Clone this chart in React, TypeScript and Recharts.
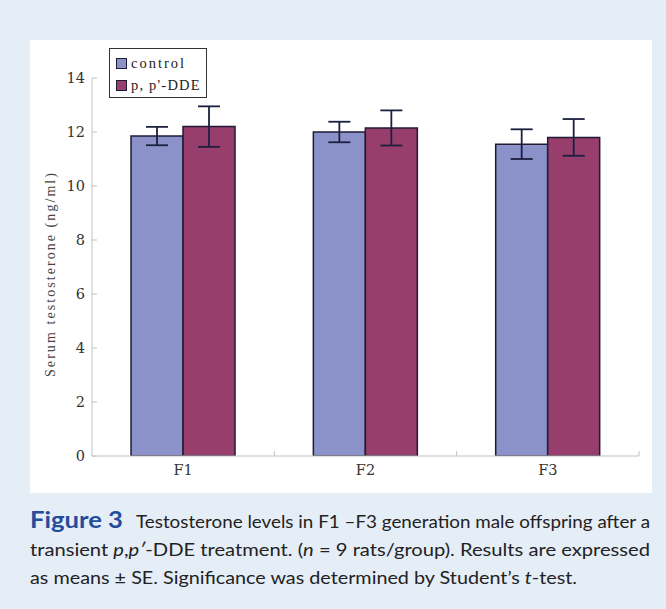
import React from 'react';
import { BarChart, Bar, XAxis, YAxis, ErrorBar, Legend } from 'recharts';

const categories = ['F1', 'F2', 'F3'];
const controlMean = [11.85, 12.0, 11.55];
const controlSE = [0.34, 0.38, 0.55];
const ddeMean = [12.2, 12.15, 11.8];
const ddeSE = [0.75, 0.65, 0.68];
const yTicks = [0, 2, 4, 6, 8, 10, 12, 14];
const seriesNames = ['control', "p, p'-DDE"];

const data = categories.map((c, i) => ({
  name: c,
  control: controlMean[i],
  controlErr: controlSE[i],
  dde: ddeMean[i],
  ddeErr: ddeSE[i],
}));

const CONTROL_FILL = '#8a92c9';
const DDE_FILL = '#983e6c';
const OUTLINE = '#1e1b33';
const AXIS = '#c2c2c2';
const X_TICK_MARGIN = 19;

const XTick = (props: any) => {
  const { x, y, payload, width, visibleTicksCount } = props;
  const half = payload && typeof payload.offset === 'number' ? payload.offset : width / (2 * visibleTicksCount);
  const axisY = y - X_TICK_MARGIN;
  return (
    <g>
      <line x1={x + half} x2={x + half} y1={axisY} y2={axisY - 5} stroke={AXIS} strokeWidth={1} />
      <text x={x} y={y} textAnchor="middle" fontFamily="DejaVu Serif" fontSize={14.5} fill="#333">
        {payload.value}
      </text>
    </g>
  );
};

const YLabel = (props: any) => {
  const vb = props.viewBox || {};
  const cx = (vb.x || 0) + 20;
  const cy = (vb.y || 0) + (vb.height || 0) / 2 + 8;
  return (
    <text
      x={cx}
      y={cy}
      transform={`rotate(-90, ${cx}, ${cy})`}
      textAnchor="middle"
      dominantBaseline="central"
      fontFamily="Liberation Serif"
      fontSize={14}
      fill="#444"
      textLength={204}
      lengthAdjust="spacing"
    >
      Serum testosterone (ng/ml)
    </text>
  );
};

const LegendBox = () => {
  const colors = [CONTROL_FILL, DDE_FILL];
  return (
    <div
      style={{
        boxSizing: 'border-box',
        width: 98,
        height: 50,
        border: '1.5px solid #333',
        background: '#fff',
        paddingTop: 3,
        paddingLeft: 6,
      }}
    >
      {seriesNames.map((n, i) => (
        <div key={n} style={{ display: 'flex', alignItems: 'center', height: 22 }}>
          <span
            style={{
              display: 'inline-block',
              boxSizing: 'border-box',
              width: 11,
              height: 11,
              background: colors[i],
              border: `1.5px solid ${OUTLINE}`,
              marginRight: 4,
            }}
          />
          <span style={{ fontFamily: 'Liberation Serif', fontSize: 14.5, color: '#222', letterSpacing: i === 0 ? 2 : 1.2 }}>{n}</span>
        </div>
      ))}
    </div>
  );
};

export default function App() {
  return (
    <div style={{ position: 'absolute', left: 0, top: 0, width: 666, height: 609, background: '#e5edf7' }}>
      <div style={{ position: 'absolute', left: 30, top: 40, width: 622, height: 453, background: '#fff' }}>
        <BarChart
          width={622}
          height={453}
          data={data}
          margin={{ top: 38, right: 13, left: 0, bottom: 0 }}
          barGap={0}
          barCategoryGap="21.4%"
        >
          <XAxis
            dataKey="name"
            height={37}
            tickLine={false}
            tickSize={0}
            tickMargin={X_TICK_MARGIN}
            axisLine={{ stroke: AXIS, strokeWidth: 1 }}
            tick={<XTick />}
            interval={0}
          />
          <YAxis
            width={62}
            domain={[0, 14]}
            ticks={yTicks}
            type="number"
            allowDataOverflow
            tickSize={-5}
            tickMargin={12}
            axisLine={{ stroke: AXIS, strokeWidth: 1 }}
            tickLine={{ stroke: AXIS, strokeWidth: 1 }}
            tick={{ fontFamily: 'DejaVu Serif', fontSize: 14.5, fill: '#333' }}
            label={<YLabel />}
          />
          <Legend
            layout="vertical"
            align="center"
            verticalAlign="middle"
            content={<LegendBox />}
            wrapperStyle={{ left: 79, top: 8, width: 98, height: 50 }}
          />
          <Bar dataKey="control" name={seriesNames[0]} fill={CONTROL_FILL} stroke={OUTLINE} strokeWidth={1.5} isAnimationActive={false}>
            <ErrorBar dataKey="controlErr" width={11} stroke="#1b2040" strokeWidth={1.8} direction="y" />
          </Bar>
          <Bar dataKey="dde" name={seriesNames[1]} fill={DDE_FILL} stroke={OUTLINE} strokeWidth={1.5} isAnimationActive={false}>
            <ErrorBar dataKey="ddeErr" width={11} stroke="#1b2040" strokeWidth={1.8} direction="y" />
          </Bar>
        </BarChart>
      </div>
      <svg width={666} height={116} style={{ position: 'absolute', left: 0, top: 493 }}>
        <text x={30} y={35} fontFamily="Lato" fontWeight={700} fontSize={22} fill="#244c9c" textLength={93} lengthAdjust="spacingAndGlyphs">
          Figure 3
        </text>
        <text x={136} y={35} fontFamily="Lato" fontSize={18} fill="#222" textLength={514} lengthAdjust="spacingAndGlyphs">
          Testosterone levels in F1 –F3 generation male offspring after a
        </text>
        <text x={30} y={63} fontFamily="Lato" fontSize={18} fill="#222" textLength={620} lengthAdjust="spacingAndGlyphs">
          transient <tspan fontStyle="italic">p</tspan>,<tspan fontStyle="italic">p′</tspan>-DDE treatment. (<tspan fontStyle="italic">n</tspan> = 9 rats/group). Results are expressed
        </text>
        <text x={30} y={91} fontFamily="Lato" fontSize={18} fill="#222" textLength={547} lengthAdjust="spacingAndGlyphs">
          as means ± SE. Significance was determined by Student’s <tspan fontStyle="italic">t</tspan>-test.
        </text>
      </svg>
    </div>
  );
}
